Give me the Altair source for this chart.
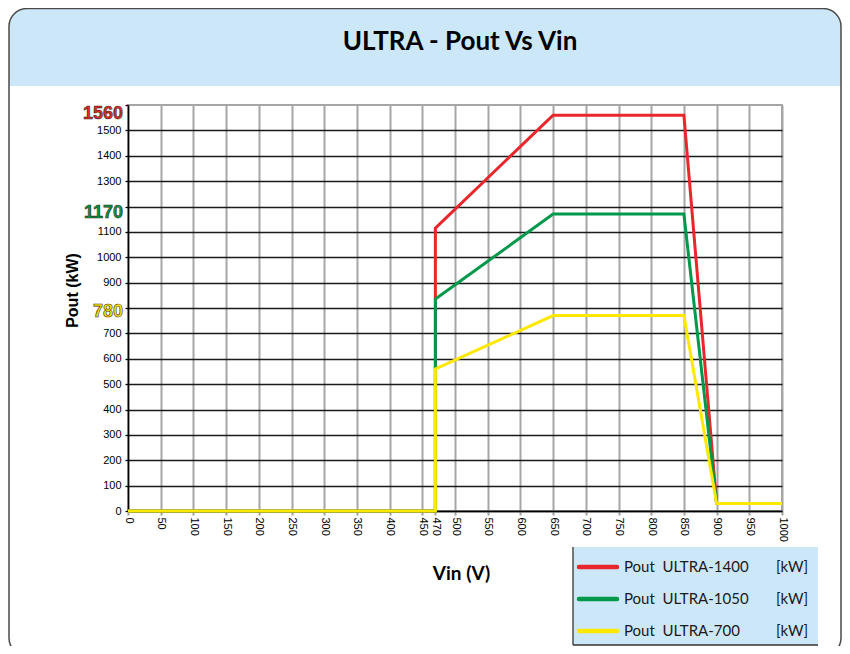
import altair as alt
import pandas as pd

# ---------------- data ----------------
vin = [0, 470, 470, 650, 850, 900, 1000]
pout_ultra_1400 = [0, 0, 1115, 1560, 1560, 30, 30]
pout_ultra_1050 = [0, 0, 835, 1170, 1170, 30, 30]
pout_ultra_700 = [0, 0, 560, 770, 770, 30, 30]

series_names = ["ULTRA-1400", "ULTRA-1050", "ULTRA-700"]
series_colors = ["#E8262B", "#00984A", "#FFE800"]
peak_labels = [1560, 1170, 780]

x_ticks = [0, 50, 100, 150, 200, 250, 300, 350, 400, 450, 470, 500, 550,
           600, 650, 700, 750, 800, 850, 900, 950, 1000]
y_ticks = list(range(0, 1700, 100))
hidden_y_labels = [800, 1200, 1600]

chart_title = "ULTRA - Pout Vs Vin"
x_title = "Vin (V)"
y_title = "Pout (kW)"
unit_text = "[kW]"

# ---------------- tables ----------------
rows = []
for name, values in zip(series_names, [pout_ultra_1400, pout_ultra_1050, pout_ultra_700]):
    for i, (v, p) in enumerate(zip(vin, values)):
        rows.append({"vin": v, "pout": p, "series": name, "idx": i})
df = pd.DataFrame(rows)

labels_df = pd.DataFrame({
    "pout": peak_labels,
    "series": series_names,
    "text": [str(v) for v in peak_labels],
})

W, H = 654, 406
BANNER = "#CCE8F8"

color_scale = alt.Scale(domain=series_names, range=series_colors)

hide_expr = " || ".join(f"datum.value == {v}" for v in hidden_y_labels)

x_enc = alt.X(
    "vin:Q",
    scale=alt.Scale(domain=[0, 1000], nice=False, zero=False),
    axis=alt.Axis(
        values=x_ticks, format="d", labelAngle=90, labelFont="Liberation Sans",
        labelFontSize=11, labelColor="#000000", labelPadding=2, labelFlush=False,
        labelOverlap=False,
        tickColor="#a0a0a0", tickSize=4, tickWidth=2,
        domainColor="#000000", domainWidth=1.5,
        grid=True, gridColor="#a6a6a6", gridWidth=2,
        gridOpacity={"condition": {"test": "datum.value === 470", "value": 0}, "value": 1},
        title=x_title, titleFont="Lato", titleFontSize=19, titleFontWeight="bold",
        titleColor="#000000", titleX=333, titleY=62, titleAlign="center",
        titleBaseline="middle",
    ),
)

y_enc = alt.Y(
    "pout:Q",
    scale=alt.Scale(domain=[0, 1600], nice=False),
    axis=alt.Axis(
        values=y_ticks, format="d",
        labelExpr=f"({hide_expr}) ? '' : format(datum.value, 'd')",
        labelFont="Liberation Sans", labelFontSize=11, labelColor="#000000",
        labelPadding=4, labelFlush=False, labelOverlap=False,
        tickColor="#000000", tickSize=3, tickWidth=1.3,
        domainColor="#000000", domainWidth=1.5,
        grid=True, gridColor="#1a1a1a", gridWidth=1.4,
        gridOpacity={"condition": {"test": "datum.value === 1600", "value": 0}, "value": 1},
        title=y_title, titleFont="Liberation Sans", titleFontSize=16,
        titleFontWeight="bold", titleColor="#000000", titleAngle=270,
        titleX=-56, titleY=185, titleAlign="center", titleBaseline="middle",
    ),
)

one = pd.DataFrame({"a": [0]})

# ---------------- decorations ----------------
banner = alt.Chart(one).mark_rect(
    fill=BANNER, cornerRadiusTopLeft=18, cornerRadiusTopRight=18
).encode(x=alt.value(-119), x2=alt.value(713), y=alt.value(-96.5), y2=alt.value(-19))

title = alt.Chart(one).mark_text(
    text=chart_title, font="Lato", fontSize=26, fontWeight="bold",
    align="center", baseline="middle", color="#000000"
).encode(x=alt.value(332), y=alt.value(-63))

frame = alt.Chart(one).mark_rect(
    fill="transparent", stroke="#4a4a4a", strokeWidth=1.5, cornerRadius=18
).encode(x=alt.value(-119), x2=alt.value(713), y=alt.value(-96.5), y2=alt.value(551))

legend_box = alt.Chart(one).mark_rect(fill=BANNER).encode(
    x=alt.value(445), x2=alt.value(690), y=alt.value(442), y2=alt.value(540))
legend_left = alt.Chart(one).mark_rule(color="#333333", strokeWidth=1.3).encode(
    x=alt.value(445), y=alt.value(442), y2=alt.value(540))
legend_bottom = alt.Chart(one).mark_rule(color="#333333", strokeWidth=1.3).encode(
    x=alt.value(445), x2=alt.value(690), y=alt.value(540))

legend_layers = []
for i, (name, color) in enumerate(zip(series_names, series_colors)):
    yy = 462 + 32 * i
    legend_layers.append(
        alt.Chart(one).mark_rule(color=color, strokeWidth=4.5, strokeCap="round").encode(
            x=alt.value(451), x2=alt.value(489), y=alt.value(yy)))
    legend_layers.append(
        alt.Chart(one).mark_text(
            text="Pout\u00a0\u00a0" + name, font="Lato", fontSize=15, align="left",
            baseline="middle", color="#1a1a1a").encode(x=alt.value(496), y=alt.value(yy)))
    legend_layers.append(
        alt.Chart(one).mark_text(
            text=unit_text, font="Lato", fontSize=15, align="left",
            baseline="middle", color="#1a1a1a").encode(x=alt.value(648), y=alt.value(yy)))

# ---------------- data lines ----------------
line_layers = []
for name in series_names:
    line_layers.append(
        alt.Chart(df).transform_filter(alt.datum.series == name).mark_line(
            strokeWidth=3, strokeJoin="miter"
        ).encode(
            x=x_enc, y=y_enc,
            color=alt.Color("series:N", scale=color_scale, legend=None),
            order=alt.Order("idx:Q"),
        )
    )

peak_text = alt.Chart(labels_df).mark_text(
    font="Liberation Sans", fontSize=18, fontWeight="bold", align="right",
    baseline="middle", dy=-1, stroke="#3a2a10", strokeWidth=0.6
).encode(
    x=alt.value(-5), y=y_enc, text="text:N",
    color=alt.Color("series:N", scale=color_scale, legend=None),
)

chart = alt.layer(
    banner, title, legend_box, legend_left, legend_bottom, *legend_layers,
    *line_layers, peak_text, frame,
).properties(
    width=W, height=H,
    autosize=alt.AutoSizeParams(type="none"),
    padding={"left": 120, "top": 97, "right": 60, "bottom": 135},
    background="white",
).configure_view(
    stroke="#a6a6a6", strokeWidth=2, fill="white"
)

chart.save("out.html", embed_options={"renderer": "svg", "actions": False})
